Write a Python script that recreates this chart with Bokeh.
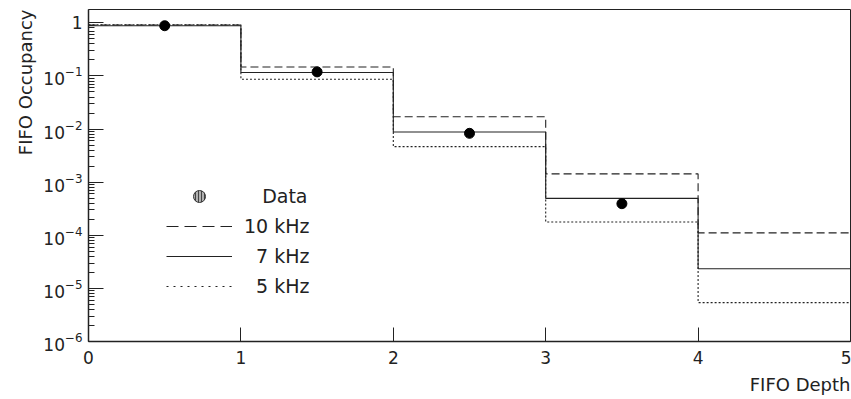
import numpy as np
from bokeh.plotting import figure
from bokeh.models import (ColumnDataSource, FixedTicker, Title, Legend, LegendItem, Range1d)
from bokeh.embed import file_html
from bokeh.resources import INLINE

# ---- data ----
bin_edges = [0, 1, 2, 3, 4, 5]
occ_10khz = [0.91, 0.147, 0.0170, 0.00143, 0.000111]
occ_7khz = [0.88, 0.116, 0.00879, 0.000494, 0.0000234]
occ_5khz = [0.92, 0.0865, 0.00466, 0.000178, 0.0000054]
data_depth = [0.5, 1.5, 2.5, 3.5]
data_occ = [0.88, 0.119, 0.0083, 0.000393]

series_labels = ["10 kHz", "7 kHz", "5 kHz"]
data_label = "Data"
x_ticks = [0, 1, 2, 3, 4, 5]
y_exponents = [-6, -5, -4, -3, -2, -1, 0]
y_top = 10 ** 0.25
x_title = "FIFO Depth"
y_title = "FIFO Occupancy"

FONT = "DejaVu Sans"
INK = "#222222"

y_ticks = [10.0 ** e for e in y_exponents]
y_minor = [m * 10.0 ** e for e in y_exponents for m in range(2, 10)]

p = figure(width=851, height=399, y_axis_type="log",
           x_range=Range1d(bin_edges[0], bin_edges[-1]),
           y_range=Range1d(y_ticks[0], y_top),
           output_backend="svg", toolbar_location=None,
           min_border_left=88, min_border_right=1,
           min_border_top=9, min_border_bottom=56)
p.grid.visible = False
p.outline_line_color = INK
p.outline_line_width = 1
p.background_fill_color = "white"
p.border_fill_color = "white"

def steps(vals):
    return list(vals) + [vals[-1]]

styles = [("8 4", "12 6"), ("solid", "solid"), ("2 2", "2 5")]
series = [occ_10khz, occ_7khz, occ_5khz]

legend_items = []
nan_src = ColumnDataSource(dict(x=[np.nan], y=[np.nan]))

# data legend entry (legend-only renderer)
r_dleg = p.scatter(x="x", y="y", source=nan_src, size=13, marker="circle",
                   fill_color="#b0b0b0", line_color="#333333", line_width=1,
                   hatch_pattern="vertical_line", hatch_color="#444444",
                   hatch_scale=3, hatch_weight=1)
legend_items.append(LegendItem(label="\u2007\u2008" + data_label, renderers=[r_dleg]))

pads = ["", "\u2007", "\u2007"]
for vals, (dash_plot, dash_leg), lab, pad in zip(series, styles, series_labels, pads):
    p.step(x=bin_edges, y=steps(vals), mode="after", line_color=INK,
           line_width=1.1, line_dash=dash_plot)
    r_leg = p.line(x="x", y="y", source=nan_src, line_color=INK,
                   line_width=1.1, line_dash=dash_leg)
    legend_items.append(LegendItem(label=pad + lab, renderers=[r_leg]))

p.scatter(x=data_depth, y=data_occ, size=10, marker="circle",
          fill_color="black", line_color="black")

legend = Legend(items=legend_items, location=(78, 40), glyph_width=66,
                glyph_height=30, spacing=0, padding=0, margin=0,
                border_line_alpha=0, background_fill_alpha=0,
                label_standoff=12, label_text_font=FONT,
                label_text_font_size="19px", label_text_color=INK,
                label_height=30)
p.add_layout(legend)

# axes
xa = p.xaxis[0]
xa.ticker = FixedTicker(ticks=x_ticks)
xa.major_tick_in = 14
xa.major_tick_out = 0
xa.major_label_standoff = 9
ya = p.yaxis[0]
ya.ticker = FixedTicker(ticks=y_ticks, minor_ticks=y_minor)
ya.major_tick_in = 15
ya.major_tick_out = 0
ya.minor_tick_in = 6
ya.minor_tick_out = 0
ya.major_label_standoff = 6
ya.major_label_overrides = {1: "1"}
for ax in (xa, ya):
    ax.axis_line_color = INK
    ax.axis_line_width = 1.5
    ax.major_tick_line_color = INK
    ax.minor_tick_line_color = INK if ax is ya else None
    ax.major_label_text_font = FONT
    ax.major_label_text_font_size = "17px"
    ax.major_label_text_color = INK

p.add_layout(Title(text=y_title, align="right", text_font=FONT,
                   text_font_size="18px", text_font_style="normal",
                   text_color=INK), "left")
p.add_layout(Title(text=x_title, align="right", text_font=FONT,
                   text_font_size="18px", text_font_style="normal",
                   text_color=INK), "below")

open("out.html", "w").write(file_html(p, INLINE))
